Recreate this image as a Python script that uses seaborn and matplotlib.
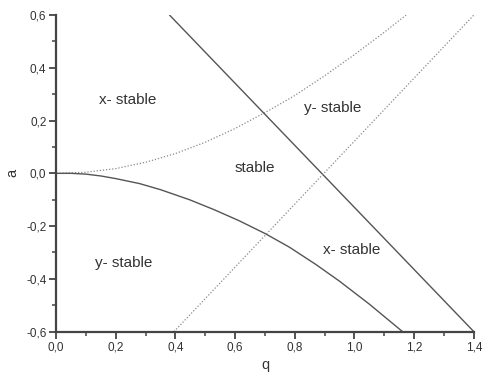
import numpy as np
import pandas as pd
import seaborn as sns
import matplotlib.pyplot as plt
from matplotlib.ticker import MultipleLocator, FuncFormatter

# boundary curves
q_upper = [0.0, 0.1, 0.2, 0.3, 0.4, 0.5, 0.6, 0.709, 0.8, 0.9, 1.0, 1.1, 1.173]
a_upper = [0.0, 0.004, 0.018, 0.042, 0.075, 0.118, 0.17, 0.236, 0.295, 0.37, 0.45, 0.535, 0.60]

q_lower = [0.0, 0.05, 0.1, 0.15, 0.2, 0.28, 0.35, 0.447, 0.53, 0.614, 0.7, 0.782, 0.87, 0.95, 1.05, 1.161]
a_lower = [0.0, 0.0, -0.003, -0.01, -0.02, -0.039, -0.062, -0.10, -0.138, -0.18, -0.228, -0.28, -0.345, -0.409, -0.496, -0.6]

q_line_solid = [0.38, 1.4]
a_line_solid = [0.6, -0.6]

q_line_dot = [0.395, 1.4]
a_line_dot = [-0.6, 0.6]

region_labels = ["x- stable", "y- stable", "stable", "y- stable", "x- stable"]
region_q = [0.24, 0.927, 0.665, 0.226, 0.99]
region_a = [0.278, 0.247, 0.02, -0.34, -0.292]

sns.set_style("ticks")
plt.rcParams['font.family'] = ['Liberation Sans', 'DejaVu Sans']

fig = plt.figure(figsize=(4.84, 3.76), dpi=100)
ax = fig.add_axes([0.116, 0.118, 0.863, 0.842])

line_col = "#555555"
dot_col = "#8a8a8a"

sns.lineplot(x=q_upper, y=a_upper, ax=ax, sort=False, color=dot_col, lw=0.9, linestyle=(0, (1, 1.5)))
sns.lineplot(x=q_lower, y=a_lower, ax=ax, sort=False, color=line_col, lw=1.0)
sns.lineplot(x=q_line_solid, y=a_line_solid, ax=ax, sort=False, color=line_col, lw=1.0)
sns.lineplot(x=q_line_dot, y=a_line_dot, ax=ax, sort=False, color=dot_col, lw=0.9, linestyle=(0, (1, 1.5)))

for lbl, qq, aa in zip(region_labels, region_q, region_a):
    ax.text(qq, aa, lbl, ha="center", va="center", fontsize=11, color="#333333")

ax.set_xlim(0, 1.4)
ax.set_ylim(-0.6, 0.6)
ax.xaxis.set_major_locator(MultipleLocator(0.2))
ax.xaxis.set_minor_locator(MultipleLocator(0.1))
ax.yaxis.set_major_locator(MultipleLocator(0.2))
ax.yaxis.set_minor_locator(MultipleLocator(0.1))
comma = FuncFormatter(lambda v, p: f"{v:.1f}".replace(".", ",").replace("-0,0", "0,0"))
ax.xaxis.set_major_formatter(comma)
ax.yaxis.set_major_formatter(comma)

ax.tick_params(which="major", length=5, width=1.3, color="#444444", labelsize=8.5, labelcolor="#333333", pad=2)
ax.tick_params(which="minor", length=3, width=1.1, color="#444444")

sns.despine(ax=ax)
for s in ["left", "bottom"]:
    ax.spines[s].set_linewidth(1.6)
    ax.spines[s].set_color("#444444")

ax.set_xlabel("q", fontsize=10.5, color="#333333", labelpad=3)
ax.set_ylabel("a", fontsize=10.5, color="#333333", labelpad=5)

fig.savefig("out.png", dpi=100)
